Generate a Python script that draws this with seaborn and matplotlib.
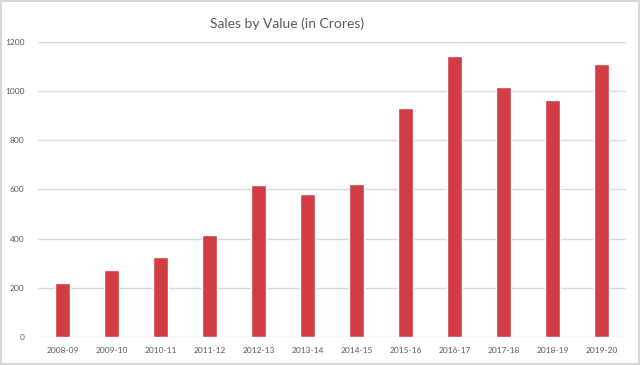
import matplotlib
matplotlib.use("Agg")
import matplotlib.pyplot as plt
import seaborn as sns
import pandas as pd
from matplotlib.patches import Rectangle

# Dados do gráfico
anos = ['2008-09', '2009-10', '2010-11', '2011-12', '2012-13', '2013-14',
        '2014-15', '2015-16', '2016-17', '2017-18', '2018-19', '2019-20']
vendas = [219, 273, 327, 416, 617, 582, 621, 932, 1141, 1017, 965, 1111]
y_ticks = [0, 200, 400, 600, 800, 1000, 1200]

df = pd.DataFrame({'Ano': anos, 'Vendas': vendas})

sns.set_style('white')
plt.rcParams['font.family'] = ['Lato', 'DejaVu Sans']

fig = plt.figure(figsize=(6.4, 3.65), dpi=100)
ax = fig.add_axes([0.060, 0.0759, 0.918, 0.810])

sns.barplot(data=df, x='Ano', y='Vendas', color='#D13D43', width=0.31,
            saturation=1, ax=ax, zorder=3)

ax.set_ylim(0, 1200)
ax.set_yticks(y_ticks)
ax.set_xlim(-0.5, len(anos) - 0.5)
ax.yaxis.grid(True, color='#D9D9D9', linewidth=1, zorder=0)
ax.set_xlabel('')
ax.set_ylabel('')
for s in ax.spines.values():
    s.set_visible(False)
ax.tick_params(axis='both', length=0, labelsize=6, labelcolor='#595959')
ax.tick_params(axis='y', pad=10)
ax.tick_params(axis='x', pad=7)

fig.text(0.449, 0.934, 'Sales by Value (in Crores)', ha='center', va='center',
         fontsize=10, color='#595959')

# moldura do gráfico
fig.patches.append(Rectangle((0.002, 0.003), 0.996, 0.994, transform=fig.transFigure,
                             fill=False, edgecolor='#D0D0D0', linewidth=1.2))

fig.savefig('out.png', dpi=100)
